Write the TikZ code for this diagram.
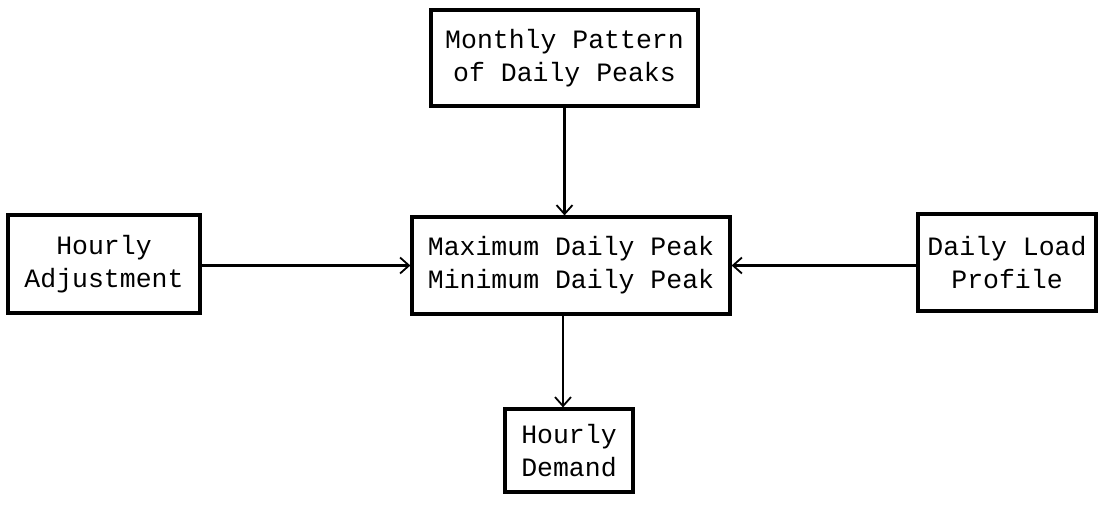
\documentclass[tikz,border=0pt]{standalone}
\usepackage{fontspec}
\setmainfont{Liberation Mono}
\usetikzlibrary{arrows.meta}
\begin{document}
\begin{tikzpicture}[x=1pt,y=-1pt,
  box/.style={draw,line width=3.2pt,inner sep=0pt,align=center,font=\fontsize{26.5}{33}\selectfont},
  conn/.style={line width=2.2pt,-{Straight Barb[length=9pt,width=16pt,line width=1.8pt]}}]
\useasboundingbox (0,0) rectangle (1101,506);
\node[box,minimum width=267pt,minimum height=96pt] (top) at (564.5,58) {Monthly Pattern\\of Daily Peaks};
\node[box,minimum width=318pt,minimum height=97pt] (mid) at (571,265.5) {Maximum Daily Peak\\Minimum Daily Peak};
\node[box,minimum width=192pt,minimum height=98pt] (left) at (104,264) {Hourly\\Adjustment};
\node[box,minimum width=178pt,minimum height=97pt] (right) at (1007,262.5) {Daily Load\\Profile};
\node[box,minimum width=128pt,minimum height=83pt] (bot) at (569,450.5) {Hourly\\Demand};
\draw[conn] (top.south) -- (top.south |- mid.north);
\draw[conn] (left.east |- mid.west) -- (mid.west);
\draw[conn] (right.west |- mid.east) -- (mid.east);
\draw[conn] ([xshift=-6pt]bot.north |- mid.south) -- ([xshift=-6pt]bot.north);
\end{tikzpicture}
\end{document}
